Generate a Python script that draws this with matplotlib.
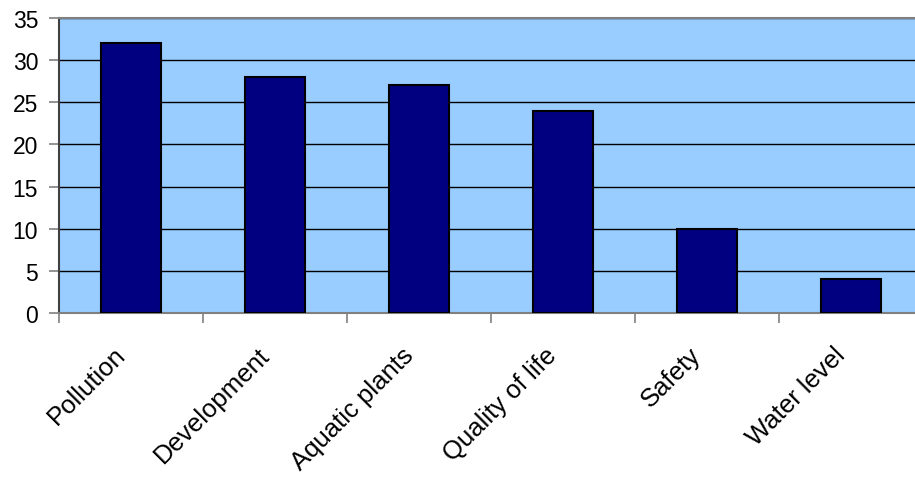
import numpy as np
import matplotlib.pyplot as plt
from matplotlib.transforms import ScaledTranslation

categories = ["Pollution", "Development", "Aquatic plants", "Quality of life", "Safety", "Water level"]
counts = [32, 28, 27, 24, 10, 4]
y_ticks = [0, 5, 10, 15, 20, 25, 30, 35]

plt.rcParams["font.family"] = ["Liberation Sans", "DejaVu Sans"]

fig = plt.figure(figsize=(9.15, 4.85), dpi=100)
ax = fig.add_axes([59 / 915, 171 / 485, 864 / 915, 295 / 485])
ax.set_facecolor("#99ccff")

pos = np.arange(len(categories))
ax.bar(pos, counts, width=0.41, color="#000080", edgecolor="black", linewidth=1.5, zorder=3)

ax.set_xlim(-0.5, len(categories) - 0.5)
ax.set_ylim(0, 35)
ax.set_yticks(y_ticks)
ax.yaxis.grid(True, color="black", linewidth=1, zorder=1)

# category labels sit between the boundary ticks
ax.set_xticks(np.arange(len(categories) + 1) - 0.5)
ax.set_xticklabels([])
ax.set_xticks(pos, minor=True)
ax.set_xticklabels(categories, minor=True, rotation=45, ha="right", va="top",
                   rotation_mode="anchor", fontsize=18.5)
ax.tick_params(axis="x", which="minor", length=0, pad=21)
ax.tick_params(axis="x", which="major", length=7, color="#808080", width=1.2)
ax.tick_params(axis="y", length=7, color="#808080", width=1.2, labelsize=16.5, pad=8)

# nudge rotated labels left so their ends sit under the bar centres
shift = ScaledTranslation(-13 / 72, 0, fig.dpi_scale_trans)
for lbl in ax.get_xticklabels(minor=True):
    lbl.set_transform(lbl.get_transform() + shift)

for side in ["top", "bottom"]:
    ax.spines[side].set_color("#808080")
    ax.spines[side].set_linewidth(1.5)
ax.spines["left"].set_color("#404040")
ax.spines["left"].set_linewidth(1.5)
ax.spines["right"].set_visible(False)

fig.savefig("out.png", dpi=100)
